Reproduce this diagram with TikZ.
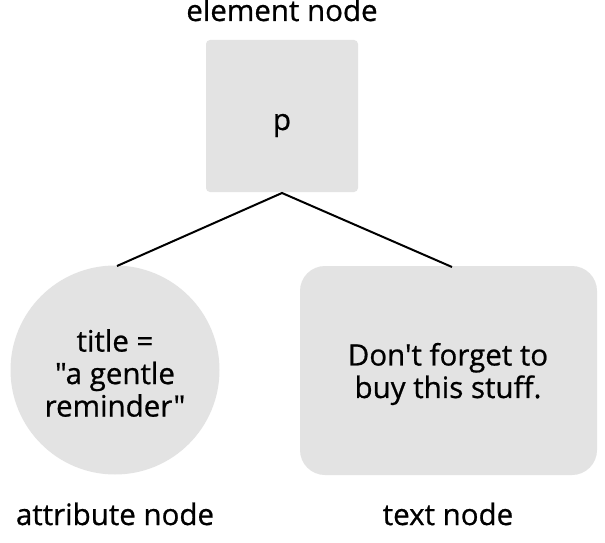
\documentclass[tikz,border=0pt]{standalone}
\usepackage{fontspec}
\newfontfamily\dfont{Open Sans}[FakeBold=0.7]
\begin{document}
\begin{tikzpicture}[x=1pt,y=-1pt,
  lbl/.style={font=\dfont\fontsize{29.5}{32}\selectfont, anchor=base, inner sep=0pt},
  inner/.style={font=\dfont\fontsize{29.5}{32.5}\selectfont, align=center, inner sep=0pt},
  shade/.style={fill=black!11, draw=none},
  link/.style={draw=black, line width=2pt}]
\useasboundingbox (0,0) rectangle (605,543);
\fill[white] (0,0) rectangle (605,543);
% element node
\node[shade, rounded corners=4pt, minimum width=152pt, minimum height=152pt, inner sep=0pt] (elem) at (282,116) {};
\node[lbl] (elemtxt) at (282,130) {p};
\node[lbl] (elemlbl) at (282,21) {element node};
% attribute node
\node[shade, circle, minimum size=209pt, inner sep=0pt] (attr) at (115,370) {};
\node[inner] (attrtxt) at (115,373) {title =\\"a gentle\\reminder"};
\node[lbl] (attrlbl) at (115,525) {attribute node};
% text node
\node[shade, rounded corners=25pt, minimum width=297pt, minimum height=209pt, inner sep=0pt] (txt) at (448.5,370.5) {};
\node[inner] (txttxt) at (448,374) {Don't forget to\\buy this stuff.};
\node[lbl] (txtlbl) at (448,525) {text node};
% connectors
\coordinate (apex) at (282,193);
\coordinate (lend) at (117,266);
\coordinate (rend) at (452,267);
\draw[link] (lend) -- (apex) -- (rend);
\end{tikzpicture}
\end{document}
